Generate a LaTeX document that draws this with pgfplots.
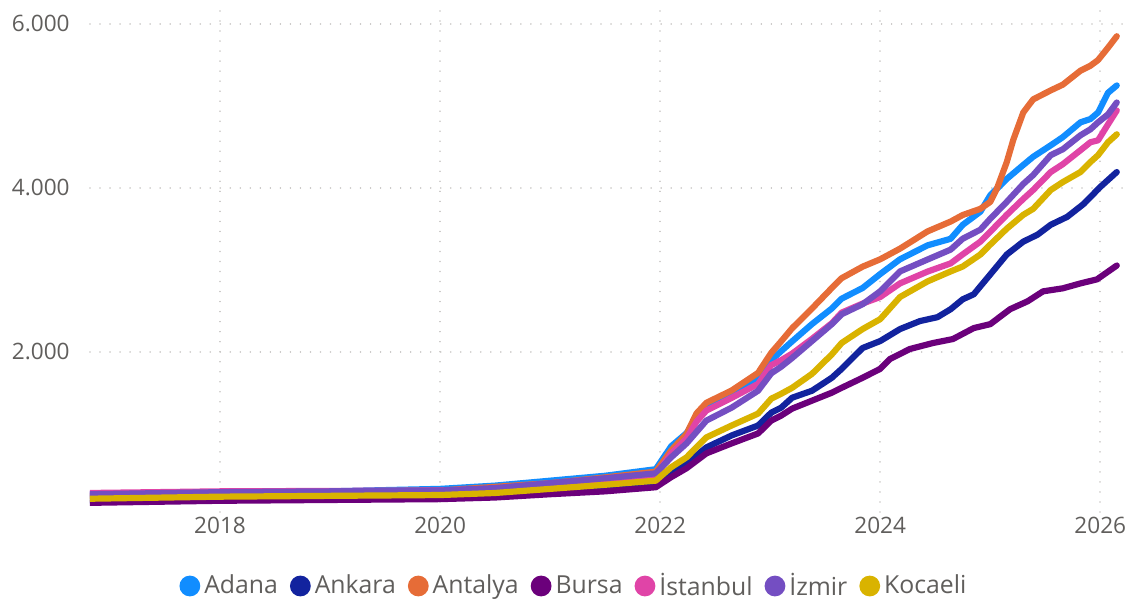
\documentclass[border=0pt]{standalone}
\usepackage{fontspec}
\setmainfont{Open Sans}
\usepackage{pgfplots}
\pgfplotsset{compat=1.18}
\definecolor{cAdana}{HTML}{118DFF}
\definecolor{cAnkara}{HTML}{12239E}
\definecolor{cAntalya}{HTML}{E66C37}
\definecolor{cBursa}{HTML}{6B007B}
\definecolor{cIstanbul}{HTML}{E044A7}
\definecolor{cIzmir}{HTML}{744EC2}
\definecolor{cKocaeli}{HTML}{D9B300}
\definecolor{txt}{HTML}{605E5C}
\definecolor{grd}{HTML}{C8C6C4}
\begin{document}
\begin{tikzpicture}
\path[use as bounding box] (-45pt,-47.5pt) rectangle (520pt,256pt);
\begin{axis}[
  scale only axis, width=520pt, height=251pt,
  at={(0,0)}, anchor=south west,
  xmin=2016.818, xmax=2026.27,
  ymin=48, ymax=6170,
  axis line style={draw=none},
  major tick length=0pt,
  xtick={2018,2020,2022,2024,2026},
  xticklabels={2018,2020,2022,2024,2026},
  ytick={2000,4000,6000},
  yticklabels={2.000,4.000,6.000},
  xticklabel style={font=\fontsize{11.3}{13}\selectfont, text=txt, anchor=north, inner sep=0pt, yshift=-2.5pt},
  yticklabel style={font=\fontsize{11.3}{13}\selectfont, text=txt, anchor=east, inner sep=0pt, xshift=-10pt},
  grid=major,
  major grid style={draw=grd, line width=0.8pt, dash pattern=on 0.01pt off 5pt, line cap=round},
  every axis plot/.append style={line width=3.1pt, line join=round, line cap=round, no marks},
  legend columns=-1,
  legend style={draw=none, fill=none, at={(0.4663,-0.1474)}, anchor=center,
    font=\fontsize{12.4}{14}\selectfont, text=txt,
    /tikz/every even column/.append style={column sep=4pt},
    nodes={inner xsep=2pt},
    inner sep=0pt},
  legend image code/.code={\fill[#1, draw=none] (5pt,0pt) circle (5.2pt);},
]
\addplot[cAdana] coordinates {
(2016.82,260)(2017.5,275)(2018,290)(2019,300)(2020,330)(2020.5,370)(2021,430)(2021.5,490)(2021.96,570)
(2022.10,850)(2022.24,1010)(2022.33,1200)(2022.42,1320)(2022.65,1480)(2022.89,1670)(2023.01,1900)(2023.10,2010)
(2023.20,2130)(2023.38,2340)(2023.56,2530)(2023.65,2650)(2023.84,2780)(2024.0,2950)(2024.18,3130)(2024.43,3300)
(2024.64,3380)(2024.75,3550)(2024.91,3710)(2025.0,3910)(2025.15,4110)(2025.30,4280)(2025.39,4380)(2025.55,4520)
(2025.66,4620)(2025.82,4800)(2025.91,4840)(2025.98,4920)(2026.07,5160)(2026.15,5250)};
\addlegendentry{Adana}
\addplot[cAnkara] coordinates {
(2016.82,190)(2018,215)(2020,235)(2020.5,260)(2021,300)(2021.5,345)(2021.96,390)
(2022.10,521)(2022.24,642)(2022.42,836)(2022.65,982)(2022.89,1103)(2023.01,1260)(2023.10,1321)
(2023.20,1442)(2023.38,1527)(2023.56,1685)(2023.65,1794)(2023.84,2048)(2024.0,2133)(2024.18,2279)
(2024.36,2376)(2024.52,2424)(2024.64,2521)(2024.75,2642)(2024.85,2703)(2025.0,2945)(2025.15,3188)
(2025.30,3345)(2025.43,3430)(2025.55,3551)(2025.70,3648)(2025.85,3806)(2026.0,4012)(2026.15,4194)};
\addlegendentry{Ankara}
\addplot[cAntalya] coordinates {
(2016.82,245)(2018,285)(2020,310)(2021,400)(2021.5,470)(2021.96,540)
(2022.10,800)(2022.24,1000)(2022.33,1250)(2022.42,1380)(2022.65,1530)(2022.89,1745)(2023.01,1990)(2023.10,2130)
(2023.20,2290)(2023.38,2530)(2023.56,2780)(2023.65,2900)(2023.84,3040)(2024.0,3130)(2024.18,3260)(2024.43,3470)
(2024.64,3590)(2024.75,3670)(2024.91,3745)(2025.0,3830)(2025.06,3990)(2025.15,4315)(2025.21,4590)(2025.30,4920)
(2025.39,5080)(2025.55,5190)(2025.66,5260)(2025.82,5430)(2025.91,5490)(2025.98,5560)(2026.07,5710)(2026.15,5850)};
\addlegendentry{Antalya}
\addplot[cBursa] coordinates {
(2016.82,160)(2018,185)(2020,205)(2020.5,225)(2021,265)(2021.5,300)(2021.96,350)
(2022.10,473)(2022.24,582)(2022.42,763)(2022.65,885)(2022.89,1006)(2023.01,1163)(2023.10,1224)
(2023.20,1309)(2023.38,1406)(2023.56,1503)(2023.65,1563)(2023.84,1685)(2024.0,1794)(2024.09,1915)
(2024.27,2036)(2024.48,2109)(2024.66,2157)(2024.85,2291)(2025.0,2339)(2025.18,2521)(2025.34,2618)
(2025.48,2739)(2025.66,2776)(2025.82,2836)(2025.97,2885)(2026.15,3054)};
\addlegendentry{Bursa}
\addplot[cIstanbul] coordinates {
(2016.82,280)(2018,300)(2020,310)(2020.5,330)(2021,380)(2021.5,440)(2021.96,490)
(2022.10,760)(2022.24,945)(2022.33,1150)(2022.42,1285)(2022.65,1440)(2022.89,1610)(2023.01,1840)(2023.10,1900)
(2023.20,1980)(2023.38,2160)(2023.56,2350)(2023.65,2480)(2023.84,2590)(2024.0,2670)(2024.18,2836)(2024.43,2980)
(2024.64,3080)(2024.75,3190)(2024.91,3345)(2025.0,3466)(2025.15,3672)(2025.30,3866)(2025.39,3975)(2025.55,4194)
(2025.66,4290)(2025.82,4460)(2025.91,4557)(2025.98,4581)(2026.07,4775)(2026.15,4945)};
\addlegendentry{İstanbul}
\addplot[cIzmir] coordinates {
(2016.82,265)(2018,290)(2020,310)(2020.5,340)(2021,400)(2021.5,460)(2021.96,520)
(2022.10,715)(2022.24,885)(2022.42,1163)(2022.65,1321)(2022.89,1527)(2023.01,1740)(2023.10,1820)
(2023.20,1927)(2023.38,2133)(2023.56,2339)(2023.65,2460)(2023.84,2582)(2024.0,2740)(2024.18,2982)(2024.43,3127)
(2024.64,3248)(2024.75,3381)(2024.91,3491)(2025.0,3624)(2025.15,3830)(2025.30,4048)(2025.39,4157)(2025.55,4400)
(2025.66,4472)(2025.82,4642)(2025.91,4715)(2025.98,4800)(2026.07,4897)(2026.15,5042)};
\addlegendentry{İzmir}
\addplot[cKocaeli] coordinates {
(2016.82,210)(2018,235)(2020,255)(2020.5,280)(2021,330)(2021.5,380)(2021.96,430)
(2022.10,594)(2022.24,715)(2022.42,958)(2022.65,1103)(2022.89,1248)(2023.01,1430)(2023.10,1490)
(2023.20,1563)(2023.38,1733)(2023.56,1970)(2023.65,2110)(2023.84,2279)(2024.0,2400)(2024.18,2670)(2024.43,2860)
(2024.64,2982)(2024.75,3042)(2024.91,3188)(2025.0,3309)(2025.15,3503)(2025.30,3672)(2025.39,3745)(2025.55,3975)
(2025.66,4072)(2025.82,4194)(2025.91,4315)(2025.98,4400)(2026.07,4557)(2026.15,4654)};
\addlegendentry{Kocaeli}
\end{axis}
\end{tikzpicture}
\end{document}
